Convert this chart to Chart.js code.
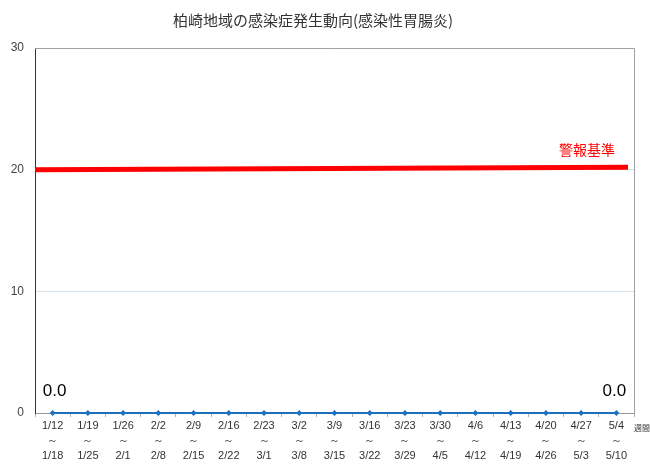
<!DOCTYPE html>
<html><head><meta charset="utf-8">
<script src="https://cdn.jsdelivr.net/npm/chart.js@4/dist/chart.umd.min.js"></script>
<style>html,body{margin:0;padding:0;background:#fff}#wrap{width:650px;height:465px}</style>
</head><body><div id="wrap"><canvas id="c" width="650" height="465"></canvas></div>
<script>
const titleText = '柏崎地域の感染症発生動向(感染性胃腸炎)';
const weekStarts = ['1/12','1/19','1/26','2/2','2/9','2/16','2/23','3/2','3/9','3/16','3/23','3/30','4/6','4/13','4/20','4/27','5/4'];
const weekEnds = ['1/18','1/25','2/1','2/8','2/15','2/22','3/1','3/8','3/15','3/22','3/29','4/5','4/12','4/19','4/26','5/3','5/10'];
const cases = [0,0,0,0,0,0,0,0,0,0,0,0,0,0,0,0,0];
const alertLine = [20, 20.2];
const alertLabel = '警報基準';
const yTicks = [0,10,20,30];
const xUnit = '週間';

const labels = weekStarts.map((s,i)=>[s,'～',weekEnds[i]]);
const jp = '"Noto Sans CJK JP", sans-serif';

const extras = {
  id:'extras',
  afterDraw(chart){
    const ctx = chart.ctx, a = chart.chartArea;
    const y = chart.scales.y;
    ctx.save();
    ctx.fillStyle = '#333';
    ctx.font = '15px ' + jp;
    ctx.textAlign = 'center'; ctx.textBaseline = 'middle';
    ctx.fillText(titleText, 313, 20);
    ctx.strokeStyle = '#a0a0a0'; ctx.lineWidth = 1;
    ctx.beginPath();
    ctx.moveTo(a.left, a.top + 0.5); ctx.lineTo(a.right + 0.5, a.top + 0.5); ctx.lineTo(a.right + 0.5, a.bottom);
    ctx.stroke();
    ctx.fillStyle = '#ff0000';
    ctx.font = '14px ' + jp;
    ctx.textAlign = 'right'; ctx.textBaseline = 'middle';
    ctx.fillText(alertLabel, 615, y.getPixelForValue(alertLine[1]) - 18);
    const meta = chart.getDatasetMeta(1);
    ctx.fillStyle = '#000';
    ctx.font = '17px Arial, "Liberation Sans", sans-serif';
    ctx.textAlign = 'center'; ctx.textBaseline = 'alphabetic';
    [0, cases.length-1].forEach(i=>{
      const p = meta.data[i];
      ctx.fillText(cases[i].toFixed(1), p.x + (i===0?2:-2), p.y - 17);
    });
    ctx.fillStyle = '#333';
    ctx.font = '8px ' + jp;
    ctx.textAlign = 'left'; ctx.textBaseline = 'middle';
    ctx.fillText(xUnit, a.right + 0, a.bottom + 15);
    ctx.restore();
  }
};

new Chart(document.getElementById('c'), {
  type:'line',
  data:{
    labels: labels,
    datasets:[
      {
        data:[{x:0,y:alertLine[0]},{x:0.99,y:alertLine[1]}],
        xAxisID:'x2',
        borderColor:'#ff0000', borderWidth:5, pointRadius:0, tension:0, order:2
      },
      {
        data: cases, clip:false,
        borderColor:'#1f6fc0', backgroundColor:'#1f6fc0', borderWidth:2,
        pointStyle:'rectRot', pointRadius:3, pointBorderWidth:0, tension:0, order:1
      }
    ]
  },
  options:{
    responsive:false, animation:false,
    layout:{padding:{top:48, right:16, left:0, bottom:4}},
    plugins:{legend:{display:false}, title:{display:false}, tooltip:{enabled:false}},
    scales:{
      x:{
        type:'category', offset:true,
        grid:{display:true, drawOnChartArea:false, drawTicks:true, tickLength:4, color:'#b0b0b0', offset:true},
        border:{display:true, color:'#999', width:1},
        ticks:{color:'#333', font:{size:11, family:'Arial, "Liberation Sans", sans-serif', lineHeight:1.35}, maxRotation:0, autoSkip:false, padding:2},
        afterFit(s){ s.height = 48; }
      },
      x2:{type:'linear', min:0, max:1, display:false},
      y:{
        min:0, max:30,
        afterBuildTicks(s){ s.ticks = yTicks.map(v=>({value:v})); },
        grid:{color:'#d5e2ec', drawTicks:false},
        border:{display:true, color:'#333', width:1},
        ticks:{color:'#444', font:{size:12, family:'Arial, "Liberation Sans", sans-serif'}, padding:11},
        afterFit(s){ s.width = 35; }
      }
    }
  },
  plugins:[extras]
});
</script></body></html>
